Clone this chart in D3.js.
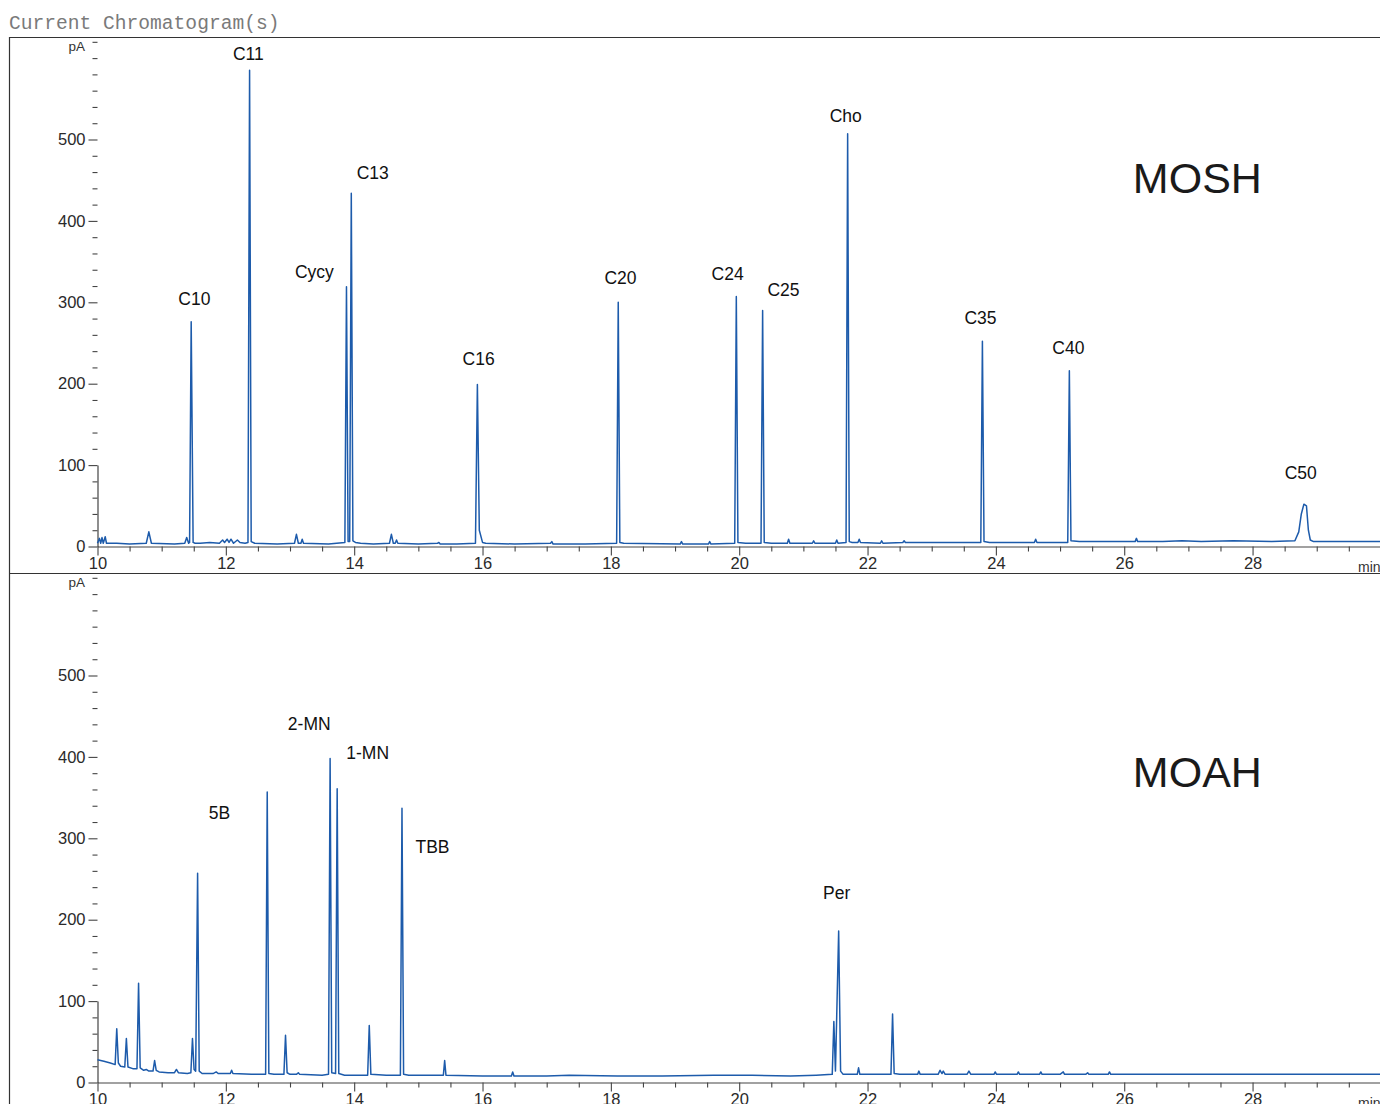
<!DOCTYPE html>
<html>
<head>
<meta charset="utf-8">
<script src="https://cdn.jsdelivr.net/npm/d3@7"></script>
<style>
  body { margin: 0; background: #fff; overflow: hidden; }
  svg { display: block; }
</style>
</head>
<body>
<script>
// retention time (min), signal (pA)
var moshTrace = [
  [10.00,4],[10.03,10],[10.05,4],[10.07,11],[10.09,4],[10.12,12],[10.14,4],[10.3,4],[10.5,3],
  [10.76,4],[10.80,18],[10.84,4],[11.2,3],[11.36,4],[11.39,11],[11.42,4],[11.435,5],[11.46,276],
  [11.49,5],[11.52,4],[11.6,4],[11.75,5],[11.9,4],[11.95,8],[11.98,5],[12.02,9],[12.05,5],
  [12.08,9],[12.12,4],[12.18,8],[12.22,5],[12.3,4],[12.345,5],[12.37,585],[12.395,6],[12.45,4],
  [12.8,3],[13.07,4],[13.10,15],[13.13,4],[13.17,4],[13.19,9],[13.21,4],[13.6,3],[13.855,5],
  [13.88,319],[13.905,6],[13.93,6],[13.955,434],[13.98,7],[14.02,5],[14.1,4],[14.3,3],[14.55,4],
  [14.58,15],[14.61,4],[14.64,4],[14.66,8],[14.68,4],[15.0,3],[15.3,4],[15.32,5],[15.34,3],
  [15.6,3],[15.89,4],[15.92,199],[15.95,20],[16.0,5],[16.05,4],[16.5,3],[17.06,4],[17.08,6],
  [17.10,3],[17.6,3],[18.09,4],[18.115,300],[18.14,5],[18.2,4],[19.08,3],[19.10,6],[19.12,3],
  [19.52,3],[19.54,6],[19.56,3],[19.93,4],[19.955,307],[19.98,5],[20.1,4],[20.34,4],[20.365,290],
  [20.39,5],[20.5,4],[20.75,4],[20.77,9],[20.79,4],[21.14,4],[21.16,7],[21.18,4],[21.50,4],
  [21.52,8],[21.54,4],[21.665,5],[21.69,507],[21.715,6],[21.76,5],[21.85,5],[21.87,9],[21.89,5],
  [22.2,4],[22.22,7],[22.24,4],[22.55,5],[22.57,7],[22.59,5],[22.9,5],[23.2,5],[23.5,5],
  [23.765,5],[23.79,252],[23.815,6],[23.9,5],[24.2,5],[24.6,5],[24.62,9],[24.64,5],[25.12,5],
  [25.145,216],[25.17,7],[25.3,6],[25.8,6],[26.17,6],[26.19,10],[26.21,6],[26.6,6],[26.9,7],
  [27.2,6],[27.7,7],[28.3,6],[28.66,7],[28.72,18],[28.76,40],[28.80,52],[28.84,50],[28.87,20],
  [28.90,8],[28.95,6],[29.5,6],[30,6]
];

var moahTrace = [
  [10.0,28],[10.05,27],[10.1,26],[10.2,24],[10.275,22],[10.30,66],[10.325,24],[10.36,20],
  [10.425,19],[10.45,54],[10.475,19],[10.55,17],[10.615,17],[10.64,122],[10.665,18],[10.72,15],
  [10.76,16],[10.8,14],[10.865,14],[10.89,27],[10.915,15],[10.96,13],[11.1,12],[11.2,12],
  [11.23,16],[11.26,12],[11.4,11],[11.455,12],[11.48,54],[11.505,16],[11.53,14],[11.56,257],
  [11.585,14],[11.63,11],[11.8,11],[11.85,13],[11.88,11],[12.07,11],[12.09,15],[12.11,11],
  [12.4,10],[12.62,10],[12.645,357],[12.67,11],[12.75,10],[12.905,10],[12.93,58],[12.955,12],
  [13.0,10],[13.1,10],[13.13,12],[13.15,10],[13.5,9],[13.6,10],[13.625,398],[13.65,12],
  [13.71,11],[13.735,361],[13.76,11],[13.85,9],[14.21,9],[14.235,70],[14.26,10],[14.5,9],
  [14.72,9],[14.745,337],[14.77,10],[14.85,9],[15.39,9],[15.41,27],[15.43,9],[16.0,8],
  [16.45,8],[16.47,13],[16.49,8],[17.0,8],[17.35,9],[18.1,8],[18.8,8],[19.6,9],[20.2,9],
  [20.8,8],[21.2,9],[21.45,10],[21.475,75],[21.50,14],[21.55,186],[21.58,14],[21.62,10],
  [21.84,10],[21.86,18],[21.88,10],[22.2,10],[22.365,10],[22.39,84],[22.415,11],[22.5,10],
  [22.78,10],[22.80,14],[22.82,10],[23.1,10],[23.13,15],[23.16,11],[23.18,14],[23.21,10],
  [23.55,10],[23.58,14],[23.61,10],[23.97,10],[23.99,13],[24.01,10],[24.33,10],[24.35,13],
  [24.37,10],[24.68,10],[24.70,13],[24.72,10],[25.0,10],[25.05,13],[25.07,10],[25.4,10],
  [25.43,12],[25.45,10],[25.75,10],[25.77,13],[25.79,10],[26.1,10],[26.5,10],[27,10],
  [28,10],[29,10],[30,10]
];

// peak annotations: name, time of label centre, pA of label centre
var moshLabels = ["C10","C11","Cycy","C13","C16","C20","C24","C25","Cho","C35","C40","C50"];
var moshLabelT = [11.51,12.35,13.38,14.29,15.94,18.15,19.82,20.69,21.66,23.76,25.13,28.75];
var moshLabelY = [305,606,338,459,231,330,335,316,529,281,244,91];

var moahLabels = ["5B","2-MN","1-MN","TBB","Per"];
var moahLabelT = [11.90,13.30,14.21,15.22,21.52];
var moahLabelY = [332,441,405,290,233];

var xTicks = [10,12,14,16,18,20,22,24,26,28];
var yTicks = [0,100,200,300,400,500];

var W = 1380, H = 1104;
var lineColor = "#1d5bab";
var fontSans = "'Liberation Sans', Arial, sans-serif";

var svg = d3.select("body").append("svg")
    .attr("width", W)
    .attr("height", H);

svg.append("text")
    .attr("x", 9)
    .attr("y", 29)
    .attr("font-family", "'Liberation Mono', 'DejaVu Sans Mono', monospace")
    .attr("font-size", "19.6px")
    .attr("fill", "#7a7a7a")
    .text("Current Chromatogram(s)");

// frame
svg.append("line").attr("x1", 9).attr("x2", W).attr("y1", 37.5).attr("y2", 37.5)
    .attr("stroke", "#333").attr("stroke-width", 1.2);
svg.append("line").attr("x1", 9.5).attr("x2", 9.5).attr("y1", 37).attr("y2", H)
    .attr("stroke", "#333").attr("stroke-width", 1.2);
svg.append("line").attr("x1", 9).attr("x2", W).attr("y1", 573.5).attr("y2", 573.5)
    .attr("stroke", "#333").attr("stroke-width", 1.2);

var x = d3.scaleLinear().domain([10, 30]).range([97.5, 97.5 + 20 * 64.17]);

function panel(zeroY, trace, names, labT, labY, bigName) {
    var y = d3.scaleLinear().domain([0, 100]).range([zeroY, zeroY - 81.4]);
    var g = svg.append("g");

    // y axis: every 20 pA, labelled every 100
    var yAxis = d3.axisLeft(y)
        .tickValues(d3.range(0, 621, 20))
        .tickSize(9)
        .tickSizeOuter(0)
        .tickFormat(function (d) { return yTicks.indexOf(d) >= 0 ? d : ""; });
    var ya = g.append("g")
        .attr("transform", "translate(97.5,0)")
        .call(yAxis);
    ya.selectAll(".tick line")
        .attr("x2", function (d) { return yTicks.indexOf(d) >= 0 ? -9 : -5; });
    ya.selectAll(".tick text").attr("x", -12);

    // x axis: every 0.5 min, labelled every 2
    var xAxis = d3.axisBottom(x)
        .tickValues(d3.range(10, 30.01, 0.5))
        .tickSize(9)
        .tickSizeOuter(0)
        .tickFormat(function (d) { return xTicks.indexOf(d) >= 0 ? d : ""; });
    var xa = g.append("g")
        .attr("transform", "translate(0," + zeroY + ")")
        .call(xAxis);
    xa.selectAll(".tick line")
        .attr("y2", function (d) { return xTicks.indexOf(d) >= 0 ? 9 : 5; });
    xa.selectAll(".tick text").attr("y", 11);

    [ya, xa].forEach(function (a) {
        a.select(".domain").attr("stroke", "#444").attr("stroke-width", 1.2);
        a.selectAll(".tick line").attr("stroke", "#444").attr("stroke-width", 1.1);
        a.selectAll(".tick text")
            .attr("font-family", fontSans)
            .attr("font-size", "16.5px")
            .attr("fill", "#2a2a2a");
    });

    g.append("text")
        .attr("x", 85)
        .attr("y", y(620) + 9)
        .attr("text-anchor", "end")
        .attr("font-family", fontSans)
        .attr("font-size", "13.5px")
        .attr("fill", "#333")
        .text("pA");

    g.append("text")
        .attr("x", 1358)
        .attr("y", zeroY + 25)
        .attr("font-family", fontSans)
        .attr("font-size", "14px")
        .attr("fill", "#333")
        .text("min");

    var line = d3.line()
        .x(function (d) { return x(d[0]); })
        .y(function (d) { return y(d[1]); });

    g.append("path")
        .datum(trace)
        .attr("d", line)
        .attr("fill", "none")
        .attr("stroke", lineColor)
        .attr("stroke-width", 1.5)
        .attr("stroke-linejoin", "round");

    g.selectAll("text.peak")
        .data(names)
        .enter()
        .append("text")
        .attr("class", "peak")
        .attr("x", function (d, i) { return x(labT[i]); })
        .attr("y", function (d, i) { return y(labY[i]); })
        .attr("dy", "0.36em")
        .attr("text-anchor", "middle")
        .attr("font-family", fontSans)
        .attr("font-size", "17.5px")
        .attr("fill", "#111")
        .text(function (d) { return d; });

    g.append("text")
        .attr("x", x(27.14))
        .attr("y", y(bigName.y))
        .attr("dy", "0.36em")
        .attr("text-anchor", "middle")
        .attr("font-family", fontSans)
        .attr("font-size", "43px")
        .attr("fill", "#1a1a1a")
        .text(bigName.text);
}

panel(546.5, moshTrace, moshLabels, moshLabelT, moshLabelY, { text: "MOSH", y: 453 });
panel(1082.5, moahTrace, moahLabels, moahLabelT, moahLabelY, { text: "MOAH", y: 382 });
</script>
</body>
</html>
